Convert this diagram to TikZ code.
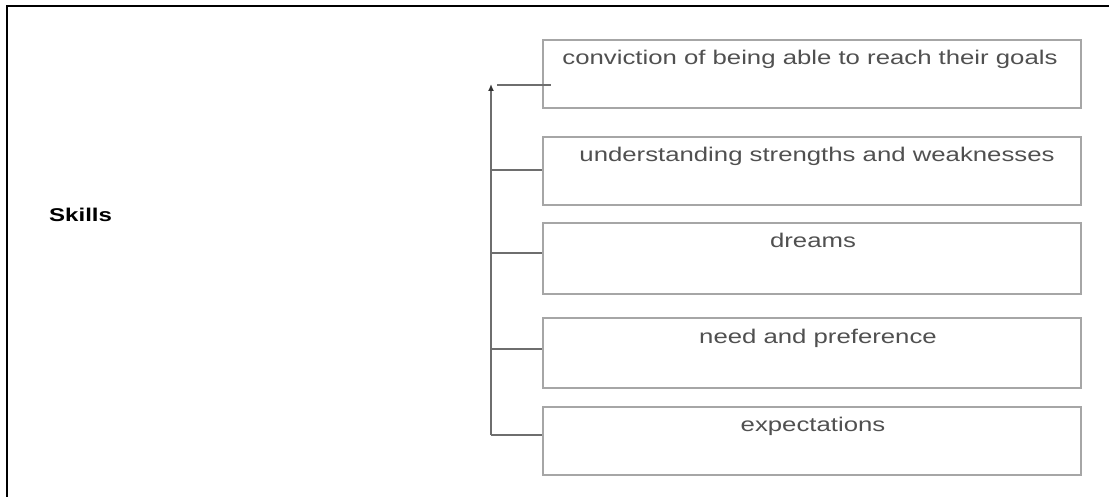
\documentclass[tikz,border=0pt]{standalone}
\usepackage{fontspec}
\setmainfont[FakeStretch=1.3]{Liberation Sans}
\usetikzlibrary{arrows.meta}
\definecolor{boxgray}{HTML}{A6A6A6}
\definecolor{linegray}{HTML}{6E6E6E}
\definecolor{textgray}{HTML}{505050}
\begin{document}
\begin{tikzpicture}[x=1pt,y=-1pt,
  itembox/.style={draw=boxgray,line width=1.5pt,minimum width=538pt,inner sep=0pt},
  itemtext/.style={anchor=base,text=textgray,font=\fontsize{19.8}{23}\selectfont,inner sep=0pt},
  conn/.style={draw=linegray,line width=1.4pt}]
\useasboundingbox (0,0) rectangle (1109,497);
\begin{scope}
\clip (0,0) rectangle (1109,497);
\draw[line width=2pt,black] (7,6) rectangle (1120,510);
\end{scope}
\node[anchor=base west,font=\bfseries\fontsize{18.5}{21}\selectfont,inner sep=0pt] (skills) at (49,222) {Skills};
\node[itembox,minimum height=68pt] (b1) at (812,74) {};
\node[itembox,minimum height=68pt] (b2) at (812,171) {};
\node[itembox,minimum height=71pt] (b3) at (812,258.5) {};
\node[itembox,minimum height=70pt] (b4) at (812,353) {};
\node[itembox,minimum height=68pt] (b5) at (812,441) {};
\node[itemtext] (t1) at (810,65) {conviction of being able to reach their goals};
\node[itemtext] (t2) at (817,162) {understanding strengths and weaknesses};
\node[itemtext] (t3) at (813,248) {dreams};
\node[itemtext] (t4) at (818,343) {need and preference};
\node[itemtext] (t5) at (813,431) {expectations};
\coordinate (top) at (491,84);
\coordinate (c1) at (497,85);
\coordinate (c1e) at (551,85);
\coordinate (k2) at (491,170);
\coordinate (k3) at (491,253);
\coordinate (k4) at (491,349);
\coordinate (k5) at (491,435);
\draw[conn,-{Latex[length=7pt,width=6pt,fill=black!80,color=black!80]}] (k5) -- (top);
\draw[conn] (c1) -- (c1e);
\draw[conn] (k2) -- (k2 -| b2.west);
\draw[conn] (k3) -- (k3 -| b3.west);
\draw[conn] (k4) -- (k4 -| b4.west);
\draw[conn] (k5) -- (k5 -| b5.west);
\end{tikzpicture}
\end{document}
